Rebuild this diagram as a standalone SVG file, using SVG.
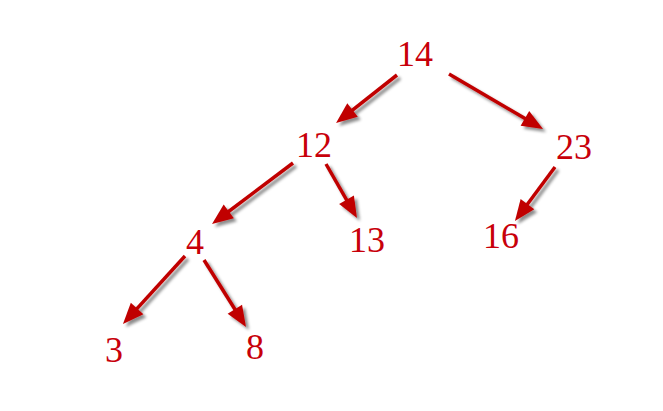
<svg xmlns="http://www.w3.org/2000/svg" width="663" height="411" viewBox="0 0 663 411">
<style>
.lbl{font-family:"Liberation Serif","Times New Roman",serif;font-size:36px;fill:#c8000a;text-anchor:middle}
.edge{stroke:#c00000;stroke-width:3.5;fill:none;marker-end:url(#ah)}
</style>
<defs>
<marker id="ah" markerUnits="userSpaceOnUse" orient="auto" markerWidth="22" markerHeight="18" refX="11" refY="8.5" overflow="visible">
<polygon points="0,0 21,8.5 0,17" fill="#c00000"/>
</marker>
<filter id="sh" x="-20%" y="-20%" width="140%" height="140%">
<feGaussianBlur in="SourceAlpha" stdDeviation="1.8"/>
<feOffset dx="3" dy="3" result="b"/>
<feFlood flood-color="#000" flood-opacity="0.45"/>
<feComposite in2="b" operator="in"/>
<feMerge><feMergeNode/><feMergeNode in="SourceGraphic"/></feMerge>
</filter>
</defs>
<rect width="663" height="411" fill="#fff"/>
<g id="connectors" filter="url(#sh)">
<line class="edge" x1="397" y1="75" x2="343.9" y2="116.8"/>
<line class="edge" x1="449" y1="74" x2="534.4" y2="124"/>
<line class="edge" x1="326" y1="164" x2="352" y2="209.3"/>
<line class="edge" x1="555" y1="167" x2="520.9" y2="213"/>
<line class="edge" x1="293" y1="163" x2="220" y2="218"/>
<line class="edge" x1="185" y1="256" x2="129.7" y2="316.6"/>
<line class="edge" x1="204" y1="260" x2="240.7" y2="318.5"/>
</g>
<g id="n14"><text class="lbl" x="415" y="66">14</text></g>
<g id="n12"><text class="lbl" x="314" y="157">12</text></g>
<g id="n23"><text class="lbl" x="574" y="159">23</text></g>
<g id="n13"><text class="lbl" x="367" y="252">13</text></g>
<g id="n16"><text class="lbl" x="501" y="248">16</text></g>
<g id="n4"><text class="lbl" x="195" y="254">4</text></g>
<g id="n3"><text class="lbl" x="114" y="362">3</text></g>
<g id="n8"><text class="lbl" x="255" y="359">8</text></g>
</svg>
